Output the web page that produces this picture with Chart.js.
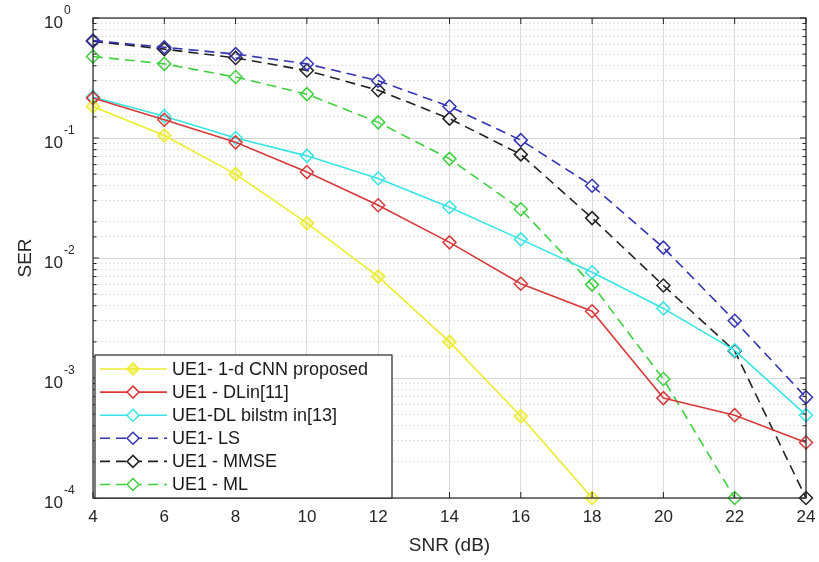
<!DOCTYPE html>
<html>
<head>
<meta charset="utf-8">
<script src="https://cdn.jsdelivr.net/npm/chart.js@4.4.1/dist/chart.umd.min.js"></script>
<style>
    html, body { margin: 0; padding: 0; background: #fff; }
    #wrap { width: 819px; height: 562px; }
</style>
</head>
<body>
<div id="wrap"><canvas id="chart" width="819" height="562"></canvas></div>
<script>
// SNR points (dB)
const snr = [4, 6, 8, 10, 12, 14, 16, 18, 20, 22, 24];
const yDecades = [-4, -3, -2, -1, 0];

// SER per method (null = below plot)
const cnnSer   = [0.183, 0.105, 0.05, 0.0195, 0.007, 0.002, 0.00048, 0.0001, null, null, null];
const dlinSer  = [0.215, 0.142, 0.092, 0.052, 0.0275, 0.0135, 0.0061, 0.0036, 0.00068, 0.00049, 0.00029];
const lstmSer  = [0.22, 0.152, 0.1, 0.071, 0.046, 0.0265, 0.0143, 0.0076, 0.0038, 0.0017, 0.00049];
const lsSer    = [0.65, 0.57, 0.5, 0.415, 0.3, 0.183, 0.096, 0.04, 0.0122, 0.003, 0.00069];
const mmseSer  = [0.64, 0.55, 0.465, 0.365, 0.25, 0.145, 0.073, 0.0215, 0.0059, 0.00168, 0.0001];
const mlSer    = [0.478, 0.415, 0.322, 0.232, 0.135, 0.067, 0.0255, 0.006, 0.00098, 0.0001, null];

const labels = ['UE1- 1-d CNN proposed', 'UE1 - DLin[11]', 'UE1-DL bilstm in[13]', 'UE1- LS', 'UE1 - MMSE', 'UE1 - ML'];
const colors = ['#ecec30', '#d63a3a', '#38e4e4', '#3434b4', '#222222', '#3fd03f'];
const seriesList = [cnnSer, dlinSer, lstmSer, lsSer, mmseSer, mlSer];
const dashed = [false, false, false, true, true, true];

const FONT = 'Liberation Sans, Arial, sans-serif';
const DASH = [10, 6];

const datasets = seriesList.map((vals, i) => ({
    label: labels[i],
    data: snr.map((x, j) => ({ x: x, y: vals[j] })),
    borderColor: colors[i],
    backgroundColor: i === 0 ? 'rgba(236,236,48,0.35)' : 'rgba(0,0,0,0)',
    borderWidth: 1.6,
    borderDash: dashed[i] ? DASH : [],
    pointStyle: 'rectRot',
    pointRadius: 6.5,
    pointBorderWidth: 1.5,
    pointBackgroundColor: i === 0 ? 'rgba(236,236,48,0.35)' : 'rgba(0,0,0,0)',
    pointBorderColor: colors[i],
    spanGaps: false,
    tension: 0,
    clip: 8
}));

const isDecade = v => Math.abs(Math.log10(v) - Math.round(Math.log10(v))) < 1e-6;

// box, inner ticks, y labels with superscripts, and a MATLAB-like legend
const framePlugin = {
    id: 'frame',
    afterDraw(chart) {
        const { ctx, chartArea: a, scales } = chart;
        const xs = scales.x, ys = scales.y;
        ctx.save();
        ctx.strokeStyle = '#262626';
        ctx.lineWidth = 1.2;
        ctx.setLineDash([]);
        ctx.strokeRect(a.left, a.top, a.right - a.left, a.bottom - a.top);

        // inner ticks
        ctx.lineWidth = 1;
        xs.ticks.forEach(t => {
            const px = xs.getPixelForValue(t.value);
            ctx.beginPath();
            ctx.moveTo(px, a.bottom); ctx.lineTo(px, a.bottom - 6);
            ctx.moveTo(px, a.top); ctx.lineTo(px, a.top + 6);
            ctx.stroke();
        });
        ys.ticks.forEach(t => {
            const py = ys.getPixelForValue(t.value);
            const len = isDecade(t.value) ? 6 : 3.5;
            ctx.beginPath();
            ctx.moveTo(a.left, py); ctx.lineTo(a.left + len, py);
            ctx.moveTo(a.right, py); ctx.lineTo(a.right - len, py);
            ctx.stroke();
        });

        // y labels 10^n
        ctx.fillStyle = '#262626';
        ctx.textBaseline = 'middle';
        ctx.textAlign = 'left';
        yDecades.forEach(d => {
            const py = ys.getPixelForValue(Math.pow(10, d));
            ctx.font = '17px ' + FONT;
            ctx.fillText('10', 44, py + 5);
            const w = ctx.measureText('10').width;
            ctx.font = '12px ' + FONT;
            ctx.fillText(d === 0 ? '0' : '-' + Math.abs(d), 44 + w + 1, py - 7);
        });

        // legend
        const lx = 95, ly = 355, lw = 297, lh = 143;
        ctx.fillStyle = '#ffffff';
        ctx.fillRect(lx, ly, lw, lh);
        ctx.strokeStyle = '#262626';
        ctx.lineWidth = 1.2;
        ctx.strokeRect(lx, ly, lw, lh);
        chart.data.datasets.forEach((ds, i) => {
            const cy = ly + 14 + i * 23.1;
            ctx.strokeStyle = ds.borderColor;
            ctx.lineWidth = 1.6;
            ctx.setLineDash(ds.borderDash);
            ctx.beginPath();
            ctx.moveTo(100, cy); ctx.lineTo(167, cy);
            ctx.stroke();
            ctx.setLineDash([]);
            // marker
            ctx.beginPath();
            ctx.moveTo(133, cy - 6); ctx.lineTo(139, cy); ctx.lineTo(133, cy + 6); ctx.lineTo(127, cy);
            ctx.closePath();
            ctx.fillStyle = i === 0 ? 'rgba(236,236,48,0.6)' : '#ffffff';
            ctx.fill();
            ctx.lineWidth = 1.5;
            ctx.stroke();
            ctx.fillStyle = '#1a1a1a';
            ctx.font = '18px ' + FONT;
            ctx.textBaseline = 'middle';
            ctx.fillText(ds.label, 172, cy + 1);
        });
        ctx.restore();
    }
};

new Chart(document.getElementById('chart'), {
    type: 'line',
    data: { datasets: datasets },
    options: {
        responsive: false,
        animation: false,
        layout: { padding: { top: 18, right: 13, left: 0, bottom: 0 } },
        plugins: { legend: { display: false }, tooltip: { enabled: false } },
        scales: {
            x: {
                type: 'linear',
                min: 4,
                max: 24,
                ticks: {
                    stepSize: 2,
                    color: '#262626',
                    font: { family: FONT, size: 17 },
                    padding: 9
                },
                grid: { color: '#dcdcdc', lineWidth: 1, drawTicks: false },
                border: { display: false },
                title: {
                    display: true,
                    text: 'SNR (dB)',
                    color: '#262626',
                    font: { family: FONT, size: 19 },
                    padding: { top: 0, bottom: 5 }
                },
                afterFit: s => {
                    s.height = 64;
                    s.paddingLeft = 0;
                    s.paddingRight = 0;
                }
            },
            y: {
                type: 'logarithmic',
                min: 0.0001,
                max: 1,
                ticks: { display: false },
                grid: {
                    drawTicks: false,
                    color: ctx => isDecade(ctx.tick.value) ? '#d6d6d6' : '#e2e2e2',
                    lineWidth: 1
                },
                border: {
                    display: false,
                    dash: ctx => (ctx.tick && isDecade(ctx.tick.value)) ? [] : [2, 2]
                },
                title: {
                    display: true,
                    text: 'SER',
                    color: '#262626',
                    font: { family: FONT, size: 19 },
                    padding: { top: 14, bottom: 0 }
                },
                afterFit: s => { s.width = 93; }
            }
        }
    },
    plugins: [framePlugin]
});
</script>
</body>
</html>
